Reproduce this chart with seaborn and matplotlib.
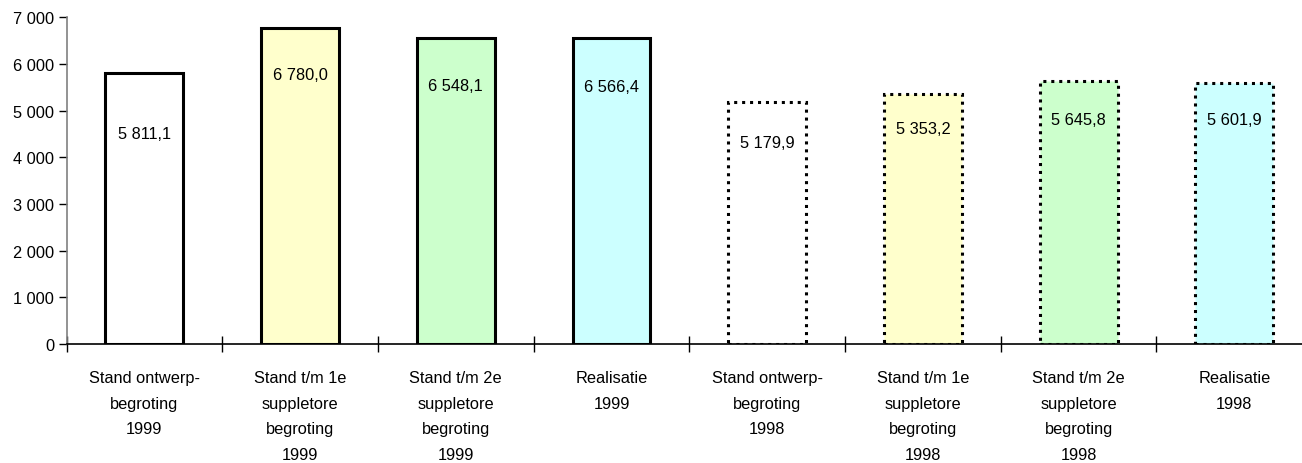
import seaborn as sns
import matplotlib.pyplot as plt
import matplotlib.ticker as mticker

categories = ["Stand ontwerp-\nbegroting\n1999", "Stand t/m 1e\nsuppletore\nbegroting\n1999",
              "Stand t/m 2e\nsuppletore\nbegroting\n1999", "Realisatie\n1999",
              "Stand ontwerp-\nbegroting\n1998", "Stand t/m 1e\nsuppletore\nbegroting\n1998",
              "Stand t/m 2e\nsuppletore\nbegroting\n1998", "Realisatie\n1998"]
values = [5811.1, 6780.0, 6548.1, 6566.4, 5179.9, 5353.2, 5645.8, 5601.9]
colors = ["#FFFFFF", "#FFFFCC", "#CCFFCC", "#CCFFFF", "#FFFFFF", "#FFFFCC", "#CCFFCC", "#CCFFFF"]
dotted = [False, False, False, False, True, True, True, True]
label_drop = [1300, 1000, 1000, 1040, 860, 730, 830, 790]


def fmt(v):
    s = f"{v:,.1f}"
    return s.replace(",", " ").replace(".", ",")


sns.set_style("white")
plt.rcParams['font.family'] = ['Liberation Sans', 'DejaVu Sans']
plt.rcParams['text.color'] = 'black'
plt.rcParams['xtick.color'] = 'black'
plt.rcParams['ytick.color'] = 'black'

fig = plt.figure(figsize=(13.02, 4.64), dpi=100)
ax = fig.add_axes([0.0511, 0.2565, 0.9567, 0.704])

sns.barplot(x=categories, y=values, hue=categories, palette=colors, width=0.5, saturation=1,
            edgecolor="black", linewidth=2.2, legend=False, ax=ax)

for patch, dot in zip(ax.patches, dotted):
    if dot:
        patch.set_linestyle((0, (1, 1.6)))

for i, v in enumerate(values):
    ax.text(i, v - label_drop[i], fmt(v), ha="center", va="center", fontsize=11.8, color="black")

ax.set_xlim(-0.5, 7.5)
ax.set_ylim(0, 7000)
ax.yaxis.set_major_locator(mticker.MultipleLocator(1000))
ax.yaxis.set_major_formatter(mticker.FuncFormatter(lambda v, p: f"{int(v):,}".replace(",", " ")))

ax.set_xticks(range(len(categories)))
ax.set_xticklabels(categories, fontsize=11.8, linespacing=1.88)
ax.tick_params(axis="x", which="major", length=0, pad=19, bottom=True)
ax.set_xticks([i - 0.5 for i in range(len(categories) + 1)], minor=True)
ax.tick_params(axis="x", which="minor", length=12, direction="inout", width=1, color="black", bottom=True)
ax.tick_params(axis="y", labelsize=11.8, length=6, width=1, direction="out", color="black", left=True, pad=3)

sns.despine(ax=ax, top=True, right=True)
ax.spines["left"].set_color("#808080")
ax.spines["left"].set_linewidth(1.2)
ax.spines["bottom"].set_color("black")
ax.spines["bottom"].set_linewidth(1.2)

plt.savefig("out.png", dpi=100)
